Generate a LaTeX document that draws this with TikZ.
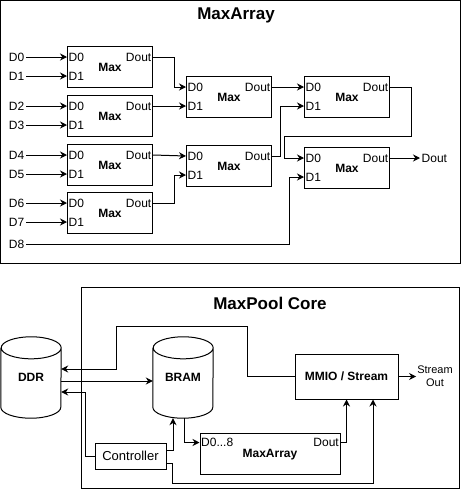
\documentclass[tikz,border=0pt]{standalone}
\usepackage{fontspec}
\setmainfont{Liberation Sans}
\usetikzlibrary{arrows.meta}

\tikzset{
  cell/.style={draw,line width=1pt,anchor=north west,minimum width=85pt,minimum height=41pt,inner sep=0pt},
  blk/.style={draw,line width=1pt,inner sep=0pt},
  port/.style={inner sep=1.5pt,font=\fontsize{12pt}{14pt}\selectfont},
  lbl/.style={inner sep=1.5pt,font=\fontsize{12pt}{14pt}\selectfont},
  bold/.style={font=\fontsize{12pt}{14pt}\selectfont\bfseries},
  ttl/.style={font=\fontsize{17pt}{20pt}\selectfont\bfseries},
  store/.style={minimum width=60pt,minimum height=81pt,inner sep=0pt,font=\fontsize{12pt}{14pt}\selectfont\bfseries},
  wire/.style={line width=1pt},
}

% one Max cell: name, left, top
\newcommand{\maxcell}[3]{%
  \node[cell] (#1) at (#2,#3) {};
  \coordinate (#1-i0) at ([shift={(0,11)}]#1.north west);
  \coordinate (#1-i1) at ([shift={(0,30)}]#1.north west);
  \coordinate (#1-o) at ([shift={(0,11)}]#1.north east);
  \node[port,anchor=west] (#1-l0) at (#1-i0) {D0};
  \node[port,anchor=west] (#1-l1) at (#1-i1) {D1};
  \node[port,anchor=east] (#1-lo) at (#1-o) {Dout};
  \node[bold] (#1-t) at (#1) {Max};
}

% cylinder outline round a store node
\newcommand{\drum}[1]{%
  \draw[wire] ([yshift=-11pt]#1.north west) -- ([yshift=11pt]#1.south west)
    arc[start angle=180,end angle=360,x radius=30pt,y radius=11pt]
    -- ([yshift=-11pt]#1.north east)
    arc[start angle=0,end angle=180,x radius=30pt,y radius=11pt]
    arc[start angle=180,end angle=360,x radius=30pt,y radius=11pt];
}

\begin{document}
\begin{tikzpicture}[x=1pt,y=-1pt,>={Stealth[length=7pt,width=7pt]},line join=miter]
  \useasboundingbox (0,0) rectangle (461,493);

  % MaxArray
  \draw[wire] (0.5,0.5) rectangle (460.5,263);
  \node[ttl] (t1) at (236,15) {MaxArray};

  \maxcell{m00}{67}{46}
  \maxcell{m01}{67}{95}
  \maxcell{m02}{67}{144}
  \maxcell{m03}{67}{192}
  \maxcell{m10}{186}{76}
  \maxcell{m11}{186}{145}
  \maxcell{m20}{304}{76}
  \maxcell{m30}{304}{147}

  \foreach \i/\c/\p in {0/m00/0,1/m00/1,2/m01/0,3/m01/1,4/m02/0,5/m02/1,6/m03/0,7/m03/1}{
    \path (\c-i\p) -- ++(-41,0) node[lbl,anchor=east] (in\i) {D\i};
    \draw[wire,->] (in\i) -- (\c-i\p);
  }
  \node[lbl,anchor=east] (in8) at (26,244) {D8};

  \draw[wire,->] (m00-o) -- ++(21,0) |- (m10-i0);
  \draw[wire,->] (m01-o) -- (m10-i1);
  \draw[wire,->] (m02-o) -- (m11-i0);
  \draw[wire,->] (m03-o) -- ++(21,0) |- (m11-i1);
  \draw[wire,->] (m10-o) -- (m20-i0);
  \draw[wire,->] (m11-o) -- ++(8,0) |- (m20-i1);
  \draw[wire,->] (m20-o) -- ++(21,0) -- ++(0,49) -| ([xshift=-20pt]m30-i0) -- (m30-i0);
  \draw[wire,->] (in8) -| ([xshift=-15pt]m30-i1) -- (m30-i1);
  \node[lbl,anchor=west] (dout) at (420,158) {Dout};
  \draw[wire,->] (m30-o) -- (dout);

  % MaxPool Core
  \draw[wire] (81,287) rectangle (459.5,488);
  \node[ttl] (t2) at (270,303) {MaxPool Core};

  \node[store] (ddr) at (31,377.5) {DDR};
  \drum{ddr}
  \node[store] (bram) at (183,377.5) {BRAM};
  \drum{bram}

  \node[blk,bold,minimum width=103pt,minimum height=45pt] (mmio) at (346.5,376.5) {MMIO / Stream};
  \node[blk,minimum width=140pt,minimum height=41pt] (ma) at (270,453.5) {};
  \node[bold] (ma-t) at (270,455) {MaxArray};
  \coordinate (ma-i) at ([shift={(0,10)}]ma.north west);
  \coordinate (ma-o) at ([shift={(0,10)}]ma.north east);
  \node[port,anchor=west] (ma-li) at (ma-i) {D0...8};
  \node[port,anchor=east] (ma-lo) at (ma-o) {Dout};
  \node[blk,minimum width=71pt,minimum height=26pt,font=\fontsize{13pt}{15pt}\selectfont] (ctrl) at (130.5,456) {Controller};
  \node[align=center,inner sep=1pt,font=\fontsize{11pt}{13pt}\selectfont] (sout) at (435,376.5) {Stream\\Out};

  \draw[wire,->] (mmio.west) -- ++(-47,0) |- ++(-131,-50) |- ([yshift=8.5pt]ddr.east);
  \draw[wire,->] ([yshift=-3.5pt]ddr.east) -- ([yshift=-3.5pt]bram.west);
  \draw[wire,->] (ctrl.west) -- ++(-9,0) |- ([yshift=-14.5pt]ddr.east);
  \draw[wire,->] ([yshift=6pt]ctrl.east) -| ([xshift=-10pt]bram.south);
  \draw[wire,->] ([xshift=1pt]bram.south) |- (ma-i);
  \draw[wire,->] (ma-o) -| (mmio.south);
  \draw[wire,->] ([yshift=-7pt]ctrl.east) -- ++(6,0) -- ++(0,20) -| ([xshift=26.5pt]mmio.south);
  \draw[wire,->] (mmio.east) -- (sout);
\end{tikzpicture}
\end{document}
